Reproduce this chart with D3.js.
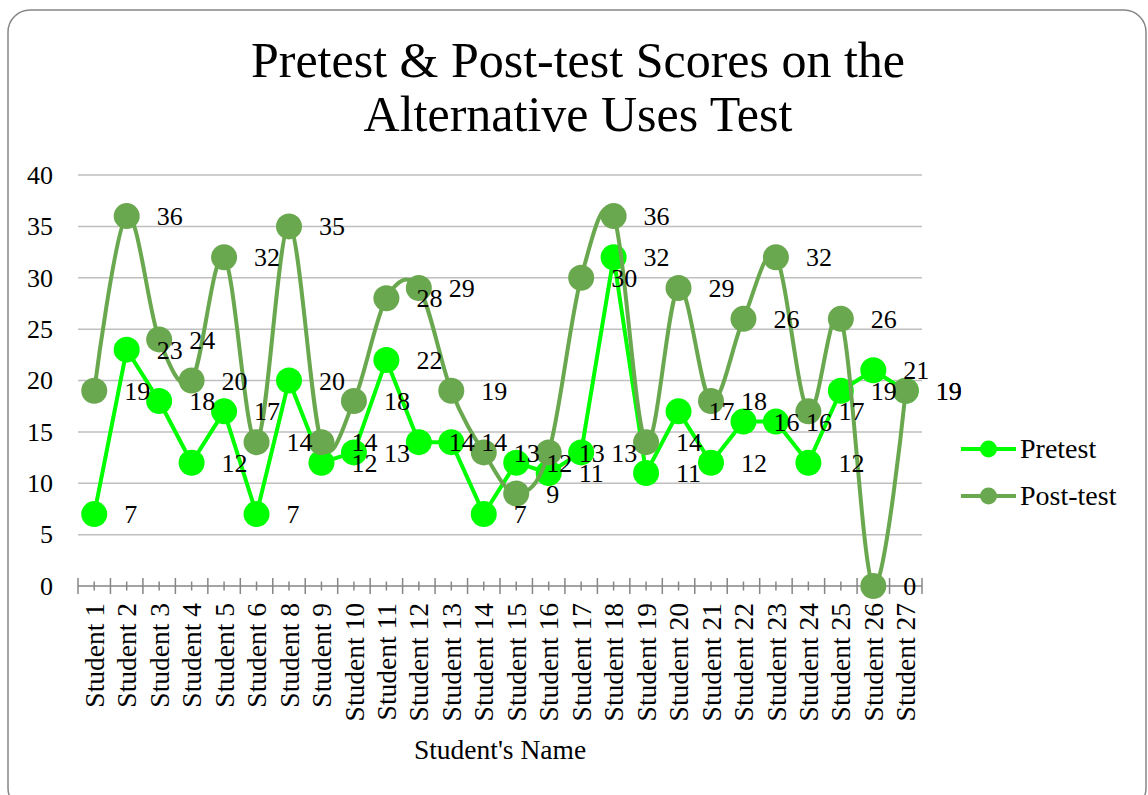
<!DOCTYPE html>
<html>
<head>
<meta charset="utf-8">
<script src="https://cdn.jsdelivr.net/npm/d3@7"></script>
<style>
  html, body { margin: 0; padding: 0; background: #fff; }
  svg { display: block; }
  text { font-family: "Liberation Serif", "Times New Roman", serif; fill: #000; }
</style>
</head>
<body>
<svg id="chart" width="1148" height="795"></svg>
<script>
// Students who sat both tests (no Student 7 in the data set)
const students = ["Student 1","Student 2","Student 3","Student 4","Student 5","Student 6",
  "Student 8","Student 9","Student 10","Student 11","Student 12","Student 13","Student 14",
  "Student 15","Student 16","Student 17","Student 18","Student 19","Student 20","Student 21",
  "Student 22","Student 23","Student 24","Student 25","Student 26","Student 27"];

const pretest  = [7, 23, 18, 12, 17, 7, 20, 12, 13, 22, 14, 14, 7, 12, 11, 13, 32, 11, 17, 12, 16, 16, 12, 19, 21, 19];
const posttest = [19, 36, 24, 20, 32, 14, 35, 14, 18, 28, 29, 19, 13, 9, 13, 30, 36, 14, 29, 18, 26, 32, 17, 26, 0, 19];

const yTicks = [0, 5, 10, 15, 20, 25, 30, 35, 40];

const titleLines = ["Pretest & Post-test Scores on the", "Alternative Uses Test"];
const xTitle = "Student's Name";

const series = [
  { name: "Pretest",   values: pretest,  color: "#00ff00", curve: d3.curveLinear },
  { name: "Post-test", values: posttest, color: "#6aa84f", curve: d3.curveCardinal.tension(0) }
];

const svg = d3.select("#chart");

// outer chart frame
svg.append("rect")
  .attr("x", 8).attr("y", 10)
  .attr("width", 1138).attr("height", 800)
  .attr("rx", 22).attr("ry", 22)
  .attr("fill", "#fff")
  .attr("stroke", "#868686").attr("stroke-width", 1.5);

const plot = { left: 78, right: 922, top: 175, bottom: 586 };

const x = d3.scaleBand().domain(students).range([plot.left, plot.right]).paddingInner(0).paddingOuter(0);
const y = d3.scaleLinear().domain([0, 40]).range([plot.bottom, plot.top]);
const cx = d => x(d) + x.bandwidth() / 2;

// title
svg.append("g").selectAll("text").data(titleLines).join("text")
  .attr("x", 578).attr("y", (d, i) => 77 + i * 54)
  .attr("text-anchor", "middle")
  .attr("font-size", 50)
  .text(d => d);

// horizontal gridlines
svg.append("g").selectAll("line").data(yTicks.filter(t => t > 0)).join("line")
  .attr("x1", plot.left).attr("x2", plot.right)
  .attr("y1", d => y(d)).attr("y2", d => y(d))
  .attr("stroke", "#bfbfbf").attr("stroke-width", 1.5);

// y axis labels
const yAxis = svg.append("g")
  .attr("transform", `translate(${plot.left},0)`)
  .call(d3.axisLeft(y).tickValues(yTicks).tickSize(0).tickPadding(25));
yAxis.select(".domain").remove();
yAxis.selectAll("text").attr("font-size", 26).attr("font-family", "Liberation Serif").attr("fill", "#000");

// x axis: baseline, crossing tick marks at band edges and centres
const axisG = svg.append("g");
axisG.append("line")
  .attr("x1", plot.left).attr("x2", plot.right)
  .attr("y1", y(0)).attr("y2", y(0))
  .attr("stroke", "#868686").attr("stroke-width", 1.5);

const edges = students.map(s => x(s)).concat([x(students[students.length - 1]) + x.bandwidth()]);
axisG.selectAll("line.major").data(edges).join("line")
  .attr("class", "major")
  .attr("x1", d => d).attr("x2", d => d)
  .attr("y1", y(0) - 8).attr("y2", y(0) + 8)
  .attr("stroke", "#868686").attr("stroke-width", 1.5);
axisG.selectAll("line.minor").data(students).join("line")
  .attr("class", "minor")
  .attr("x1", d => cx(d)).attr("x2", d => cx(d))
  .attr("y1", y(0) - 4.5).attr("y2", y(0) + 4.5)
  .attr("stroke", "#868686").attr("stroke-width", 1.5);

// category labels, rotated
const xAxis = svg.append("g")
  .attr("transform", `translate(0,${y(0)})`)
  .call(d3.axisBottom(x).tickSize(0).tickPadding(0));
xAxis.select(".domain").remove();
xAxis.selectAll("text")
  .attr("font-size", 27.5)
  .attr("font-family", "Liberation Serif")
  .attr("fill", "#000")
  .attr("text-anchor", "end")
  .attr("dy", "0.35em")
  .attr("transform", "translate(0,17) rotate(-90)")
  .attr("x", 0).attr("y", 0);

// x axis title
svg.append("text")
  .attr("x", 500).attr("y", 759)
  .attr("text-anchor", "middle")
  .attr("font-size", 27.5)
  .text(xTitle);

// series lines and markers
series.forEach(s => {
  const line = d3.line()
    .x((d, i) => cx(students[i]))
    .y(d => y(d))
    .curve(s.curve);
  const g = svg.append("g");
  g.append("path")
    .datum(s.values)
    .attr("d", line)
    .attr("fill", "none")
    .attr("stroke", s.color)
    .attr("stroke-width", 4)
    .attr("stroke-linejoin", "round");
  g.selectAll("circle").data(s.values).join("circle")
    .attr("cx", (d, i) => cx(students[i]))
    .attr("cy", d => y(d))
    .attr("r", 13)
    .attr("fill", s.color);
});

// value labels to the right of each point
series.forEach(s => {
  svg.append("g").selectAll("text").data(s.values).join("text")
    .attr("x", (d, i) => cx(students[i]) + 30)
    .attr("y", d => y(d))
    .attr("dy", "0.35em")
    .attr("font-size", 26)
    .text(d => d);
});

// legend
const legend = svg.append("g").selectAll("g").data(series).join("g")
  .attr("transform", (d, i) => `translate(961,${449 + i * 47})`);
legend.append("line")
  .attr("x1", 0).attr("x2", 55)
  .attr("stroke", d => d.color).attr("stroke-width", 4);
legend.append("circle")
  .attr("cx", 27.5).attr("r", 8.5)
  .attr("fill", d => d.color);
legend.append("text")
  .attr("x", 59).attr("dy", "0.33em")
  .attr("font-size", 28)
  .text(d => d.name);
</script>
</body>
</html>
